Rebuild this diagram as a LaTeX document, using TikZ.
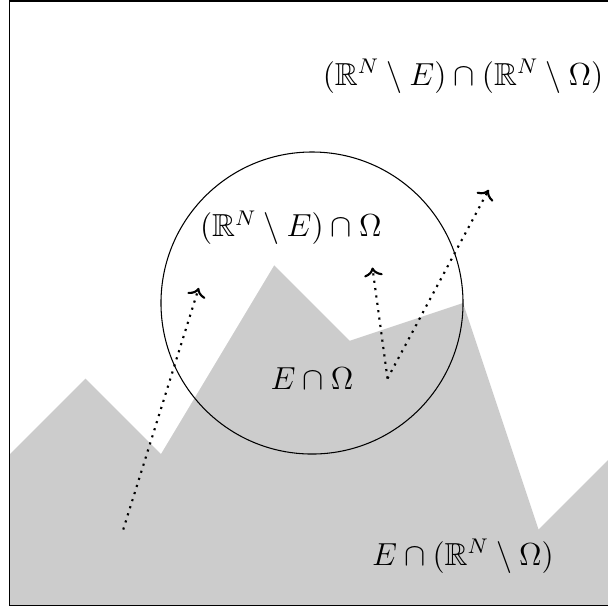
\documentclass[tikz,border=0pt,12pt]{standalone}
\usepackage{amsmath,amssymb}
\usepackage{tikz}
\usetikzlibrary{arrows.meta}
\definecolor{setgray}{RGB}{204, 204, 204}

\tikzset{
    region/.style={fill=setgray, draw=none},
    path line/.style={dotted, thick, ->},
}

\begin{document}
\begin{tikzpicture}
\useasboundingbox (-0.132,-0.026) rectangle (7.92,8.013);
\clip (-0.132,-0.026) rectangle (7.92,8.013);

% the set E
\fill[region] (0,0) -- (0,2) -- (1,3) -- (2,2) -- (3.5,4.5) -- (4.5,3.5)
    -- (6,4) -- (7,1) -- (8,2) -- (8,0) -- cycle;

% box and the ball Omega
\draw (0,0) rectangle (8,8);
\draw (4,4) circle (2);

% labels
\node (outer) at (6,7) {$(\mathbb{R}^N \setminus E) \cap (\mathbb{R}^N \setminus \Omega)$};
\node (ballout) at (3.72,5) {$(\mathbb{R}^N \setminus E) \cap \Omega$};
\node (ballin) at (4,3) {$E \cap \Omega$};
\node (setout) at (6,0.65) {$E \cap (\mathbb{R}^N \setminus \Omega)$};

% paths
\coordinate (startA) at (1.5,1);
\coordinate (endA) at (2.5,4.2);
\coordinate (startB) at (5,3);
\coordinate (endB) at (4.8,4.47);
\coordinate (endC) at (6.34,5.5);
\draw[path line] (startA) -- (endA);
\draw[path line] (startB) -- (endB);
\draw[path line] (startB) -- (endC);
\end{tikzpicture}
\end{document}
